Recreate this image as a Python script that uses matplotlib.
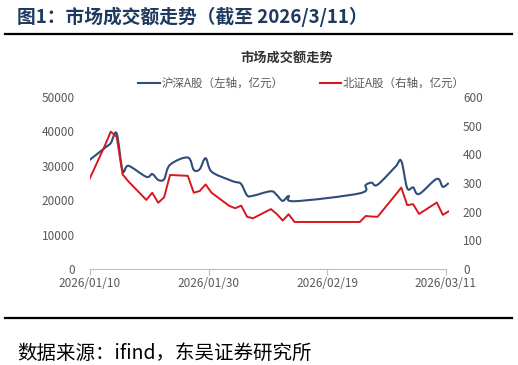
import matplotlib
matplotlib.use("Agg")
import matplotlib.pyplot as plt
import matplotlib.dates as mdates
from matplotlib.path import Path
from matplotlib.patches import PathPatch
from matplotlib.lines import Line2D
import numpy as np
import pandas as pd

plt.rcParams["font.family"] = ["Noto Sans CJK SC", "DejaVu Sans"]

# trading days and turnover (亿元)
DATES = [
    "2026-01-09", "2026-01-12", "2026-01-13", "2026-01-14", "2026-01-15", "2026-01-16",
    "2026-01-19", "2026-01-20", "2026-01-21", "2026-01-22", "2026-01-23",
    "2026-01-26", "2026-01-27", "2026-01-28", "2026-01-29", "2026-01-30",
    "2026-02-02", "2026-02-03", "2026-02-04", "2026-02-05", "2026-02-06",
    "2026-02-09", "2026-02-10", "2026-02-11", "2026-02-12", "2026-02-13",
    "2026-02-24", "2026-02-25", "2026-02-26", "2026-02-27",
    "2026-03-02", "2026-03-03", "2026-03-04", "2026-03-05", "2026-03-06",
    "2026-03-09", "2026-03-10", "2026-03-11",
]
HS_A = [
    31100, 35200, 36600, 39400, 28600, 30000,
    26800, 27600, 25900, 26100, 30300,
    32400, 28800, 29000, 32200, 28300,
    25900, 25300, 24700, 21400, 21300,
    22600, 21500, 19800, 21200, 19700,
    22000, 24400, 25100, 24500,
    29700, 31400, 23500, 23700, 21800,
    26200, 23900, 25000,
]
BZ_A = [
    295, 430, 479, 461, 330, 305,
    241, 266, 231, 250, 328,
    325, 266, 272, 295, 266,
    220, 212, 221, 182, 177,
    209, 192, 169, 191, 164,
    164, 185, 183, 182,
    258, 284, 223, 226, 192,
    232, 189, 201,
]
LEFT_TICKS = [0, 10000, 20000, 30000, 40000, 50000]
RIGHT_TICKS = [0, 100, 200, 300, 400, 500, 600]
X_LABELS = ["2026/01/10", "2026/01/30", "2026/02/19", "2026/03/11"]

BLUE = "#2e4d7b"
RED = "#d9161c"
GRAY = "#595959"


def smooth_path(x, y):
    # excel style smoothed line: cubic bezier through every point
    pts = np.column_stack([x, y])
    n = len(pts)
    verts = [pts[0]]
    codes = [Path.MOVETO]
    for i in range(n - 1):
        p0 = pts[max(i - 1, 0)]
        p1 = pts[i]
        p2 = pts[i + 1]
        p3 = pts[min(i + 2, n - 1)]
        verts += [p1 + (p2 - p0) / 6, p2 - (p3 - p1) / 6, p2]
        codes += [Path.CURVE4] * 3
    return Path(verts, codes)


x = mdates.date2num(pd.to_datetime(DATES))
tick_pos = mdates.date2num(pd.to_datetime(X_LABELS, format="%Y/%m/%d")) - 0.5

fig = plt.figure(figsize=(5.18, 3.65), dpi=100)
W, H = 518, 365

ax = fig.add_axes([90 / W, 1 - 269 / H, 359 / W, 172 / H])
ax2 = ax.twinx()

ax.add_patch(PathPatch(smooth_path(x, HS_A), facecolor="none", edgecolor=BLUE, lw=1.5))
ax2.plot(x, BZ_A, color=RED, lw=1.4)

ax.set_xlim(tick_pos[0], x[-1] + 0.05)
ax.set_ylim(0, 50000)
ax2.set_ylim(0, 600)
ax.set_yticks(LEFT_TICKS)
ax2.set_yticks(RIGHT_TICKS)
ax.set_xticks(tick_pos)
ax.set_xticklabels(X_LABELS)

for a in (ax, ax2):
    for s in ("top", "left", "right"):
        a.spines[s].set_visible(False)
ax2.spines["bottom"].set_visible(False)
ax.spines["bottom"].set_color("#bfbfbf")
ax.spines["bottom"].set_bounds(tick_pos[0], tick_pos[-1])

ax.tick_params(axis="y", length=0, pad=11, labelsize=8.5, labelcolor=GRAY)
ax2.tick_params(axis="y", length=0, pad=10, labelsize=8.5, labelcolor=GRAY)
ax.tick_params(axis="x", length=4, color="#bfbfbf", pad=2, labelsize=8.5, labelcolor=GRAY)

# header and footer
fig.text(17 / W, 1 - 17 / H, "图1：市场成交额走势（截至 2026/3/11）", fontsize=13.5,
         fontweight="bold", color="#1f3a5f", va="center", ha="left")
fig.add_artist(Line2D([5 / W, 512 / W], [1 - 34 / H] * 2, color="black", lw=1.6))
fig.add_artist(Line2D([5 / W, 512 / W], [1 - 318 / H] * 2, color="black", lw=1.6))
fig.text(17 / W, 1 - 353 / H, "数据来源：ifind，东吴证券研究所", fontsize=14,
         color="black", va="center", ha="left")

fig.text(287 / W, 1 - 58 / H, "市场成交额走势", fontsize=9.5, fontweight="bold",
         color="#333333", va="center", ha="center")

# legend
fig.add_artist(Line2D([138 / W, 160 / W], [1 - 83 / H] * 2, color=BLUE, lw=1.5))
fig.text(162 / W, 1 - 83 / H, "沪深A股（左轴，亿元）", fontsize=8.3, color=GRAY, va="center")
fig.add_artist(Line2D([320 / W, 341 / W], [1 - 83 / H] * 2, color=RED, lw=1.5))
fig.text(343 / W, 1 - 83 / H, "北证A股（右轴，亿元）", fontsize=8.3, color=GRAY, va="center")

fig.savefig("out.png", dpi=100)
